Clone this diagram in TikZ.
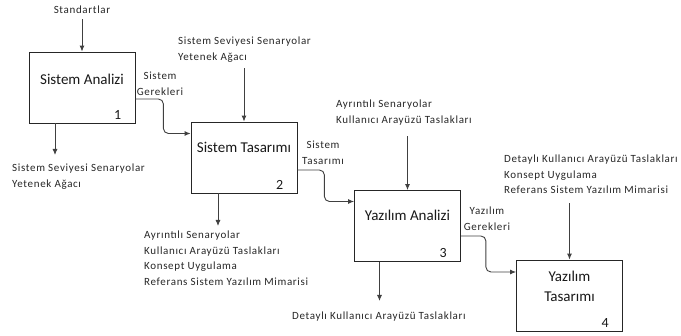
\documentclass[tikz,border=0pt]{standalone}
\usepackage{fontspec}
\setmainfont{Carlito}
\newfontfamily\lblfont[LetterSpace=6]{Carlito}
\usetikzlibrary{arrows.meta,positioning}
\tikzstyle{procNode} = [rectangle, minimum width=106pt, minimum height=71pt, inner sep=0pt, draw=black!85, line width=0.8pt, fill=white]
\tikzstyle{titleTxt} = [anchor=north, inner sep=0pt, align=center, font=\fontsize{15}{20}\selectfont, text=black!90]
\tikzstyle{numTxt} = [anchor=south east, inner sep=0pt, xshift=-14pt, yshift=4pt, font=\fontsize{14}{14}\selectfont, text=black!90]
\tikzstyle{eNode} = [inner sep=0pt, align=left, font=\lblfont\fontsize{11}{15.5}\selectfont, text=black!85]
\tikzstyle{cNode} = [eNode, align=center, anchor=north]
\tikzstyle{flow} = [line width=0.9pt, draw=black!75, -{Latex[length=6pt,width=5pt]}, rounded corners=5pt]

\begin{document}
\begin{tikzpicture}[x=1pt, y=-1pt]
    \useasboundingbox (0,0) rectangle (681,336);

    \node (b1) [procNode, label={[titleTxt, name=t1, yshift=-22pt]north:Sistem Analizi}, label={[numTxt, name=n1]south east:1}] at (82,87.5) {};
    \node (b2) [procNode, label={[titleTxt, name=t2, yshift=-20pt]north:Sistem Tasarımı}, label={[numTxt, name=n2]south east:2}] at (244,157.5) {};
    \node (b3) [procNode, label={[titleTxt, name=t3, yshift=-20pt]north:Yazılım Analizi}, label={[numTxt, name=n3]south east:3}] at (407.5,226) {};
    \node (b4) [procNode, label={[titleTxt, name=t4, yshift=-11pt]north:Yazılım\\Tasarımı}, label={[numTxt, name=n4]south east:4}] at (569.5,295.5) {};

    \node (std) [eNode] at (82,10) {Standartlar};
    \node (out1) [eNode, anchor=north west] at (12,164) {Sistem Seviyesi Senaryolar\\Yetenek Ağacı};
    \node (lbl1) [cNode] at (160,72) {Sistem\\Gerekleri};
    \node (in2) [eNode, anchor=north west] at (178,37) {Sistem Seviyesi Senaryolar\\Yetenek Ağacı};
    \node (lbl2) [cNode] at (323,141) {Sistem\\Tasarımı};
    \node (out2) [eNode, anchor=north west] at (144,231) {Ayrıntılı Senaryolar\\Kullanıcı Arayüzü Taslakları\\Konsept Uygulama\\Referans Sistem Yazılım Mimarisi};
    \node (in3) [eNode, anchor=north west] at (336,100) {Ayrıntılı Senaryolar\\Kullanıcı Arayüzü Taslakları};
    \node (lbl3) [cNode] at (487,207) {Yazılım\\Gerekleri};
    \node (out3) [eNode, anchor=north west] at (292,312) {Detaylı Kullanıcı Arayüzü Taslakları};
    \node (in4) [eNode, anchor=north west] at (504,155) {Detaylı Kullanıcı Arayüzü Taslakları\\Konsept Uygulama\\Referans Sistem Yazılım Mimarisi};

    % inputs from above
    \draw [flow, shorten <=5pt] (std.south) -- (b1.north);
    \draw [flow, shorten <=6pt] (in2.south -| b2.north) -- (b2.north);
    \draw [flow, shorten <=11pt] (in3.south -| b3.north) -- (b3.north);
    \draw [flow, shorten <=9pt] (in4.south -| b4.north) -- (b4.north);

    % outputs below
    \draw [flow, shorten >=9pt] ([xshift=-27pt]b1.south) -- ([xshift=-27pt]b1.south |- out1.north);
    \draw [flow, shorten >=5pt] ([xshift=-26pt]b2.south) -- ([xshift=-26pt]b2.south |- out2.north);
    \draw [flow, shorten >=11pt] ([xshift=-28pt]b3.south) -- ([xshift=-28pt]b3.south |- out3.north);

    % box to box
    \draw [flow] ([yshift=-11.5pt]b1.east) -- ++(28,0) |- ([yshift=24pt]b2.west);
    \draw [flow] ([yshift=-12.5pt]b2.east) -- ++(27,0) |- ([yshift=24.5pt]b3.west);
    \draw [flow] ([yshift=-10pt]b3.east) -- ++(25,0) |- ([yshift=23.5pt]b4.west);
\end{tikzpicture}
\end{document}
